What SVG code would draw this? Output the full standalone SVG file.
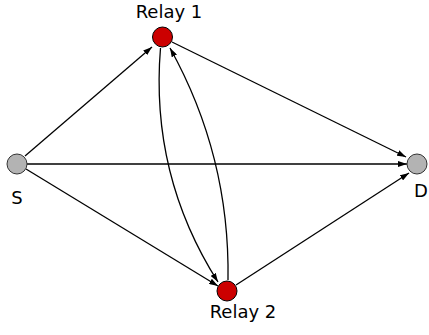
<svg xmlns="http://www.w3.org/2000/svg" width="429" height="335" viewBox="0 0 429 335">
<style>
.edge{fill:none;stroke:#000;stroke-width:1.3;marker-end:url(#ah)}
.relay{fill:#cc0000;stroke:#000;stroke-width:1}
.end{fill:#b3b3b3;stroke:#333;stroke-width:1}
.lbl{font-family:"DejaVu Sans",sans-serif;font-size:18px;fill:#000;text-anchor:middle}
</style>
<defs>
<marker id="ah" markerUnits="userSpaceOnUse" markerWidth="10" markerHeight="6" refX="9" refY="3" orient="auto">
<path d="M0,0 L9,3 L0,6 z" fill="#000"/>
</marker>
</defs>
<rect width="429" height="335" fill="#fff"/>
<g id="connectors">
<path class="edge" d="M25,156 L152,47"/>
<path class="edge" d="M26,169 L218,286"/>
<path class="edge" d="M27,164 L407,164"/>
<path class="edge" d="M172,42 L406,157"/>
<path class="edge" d="M236,285 L409,173"/>
<path class="edge" d="M160.5,48 Q150,175 218,282"/>
<path class="edge" d="M228,280 Q230,156 170,48"/>
</g>
<g id="relay1"><circle class="relay" cx="162.5" cy="37" r="10"/><text class="lbl" x="169" y="18">Relay 1</text></g>
<g id="s"><circle class="end" cx="17" cy="164" r="10"/><text class="lbl" x="17" y="204">S</text></g>
<g id="d"><circle class="end" cx="417" cy="164" r="10"/><text class="lbl" x="421" y="197">D</text></g>
<g id="relay2"><circle class="relay" cx="227" cy="291" r="10"/><text class="lbl" x="243" y="318">Relay 2</text></g>
</svg>
